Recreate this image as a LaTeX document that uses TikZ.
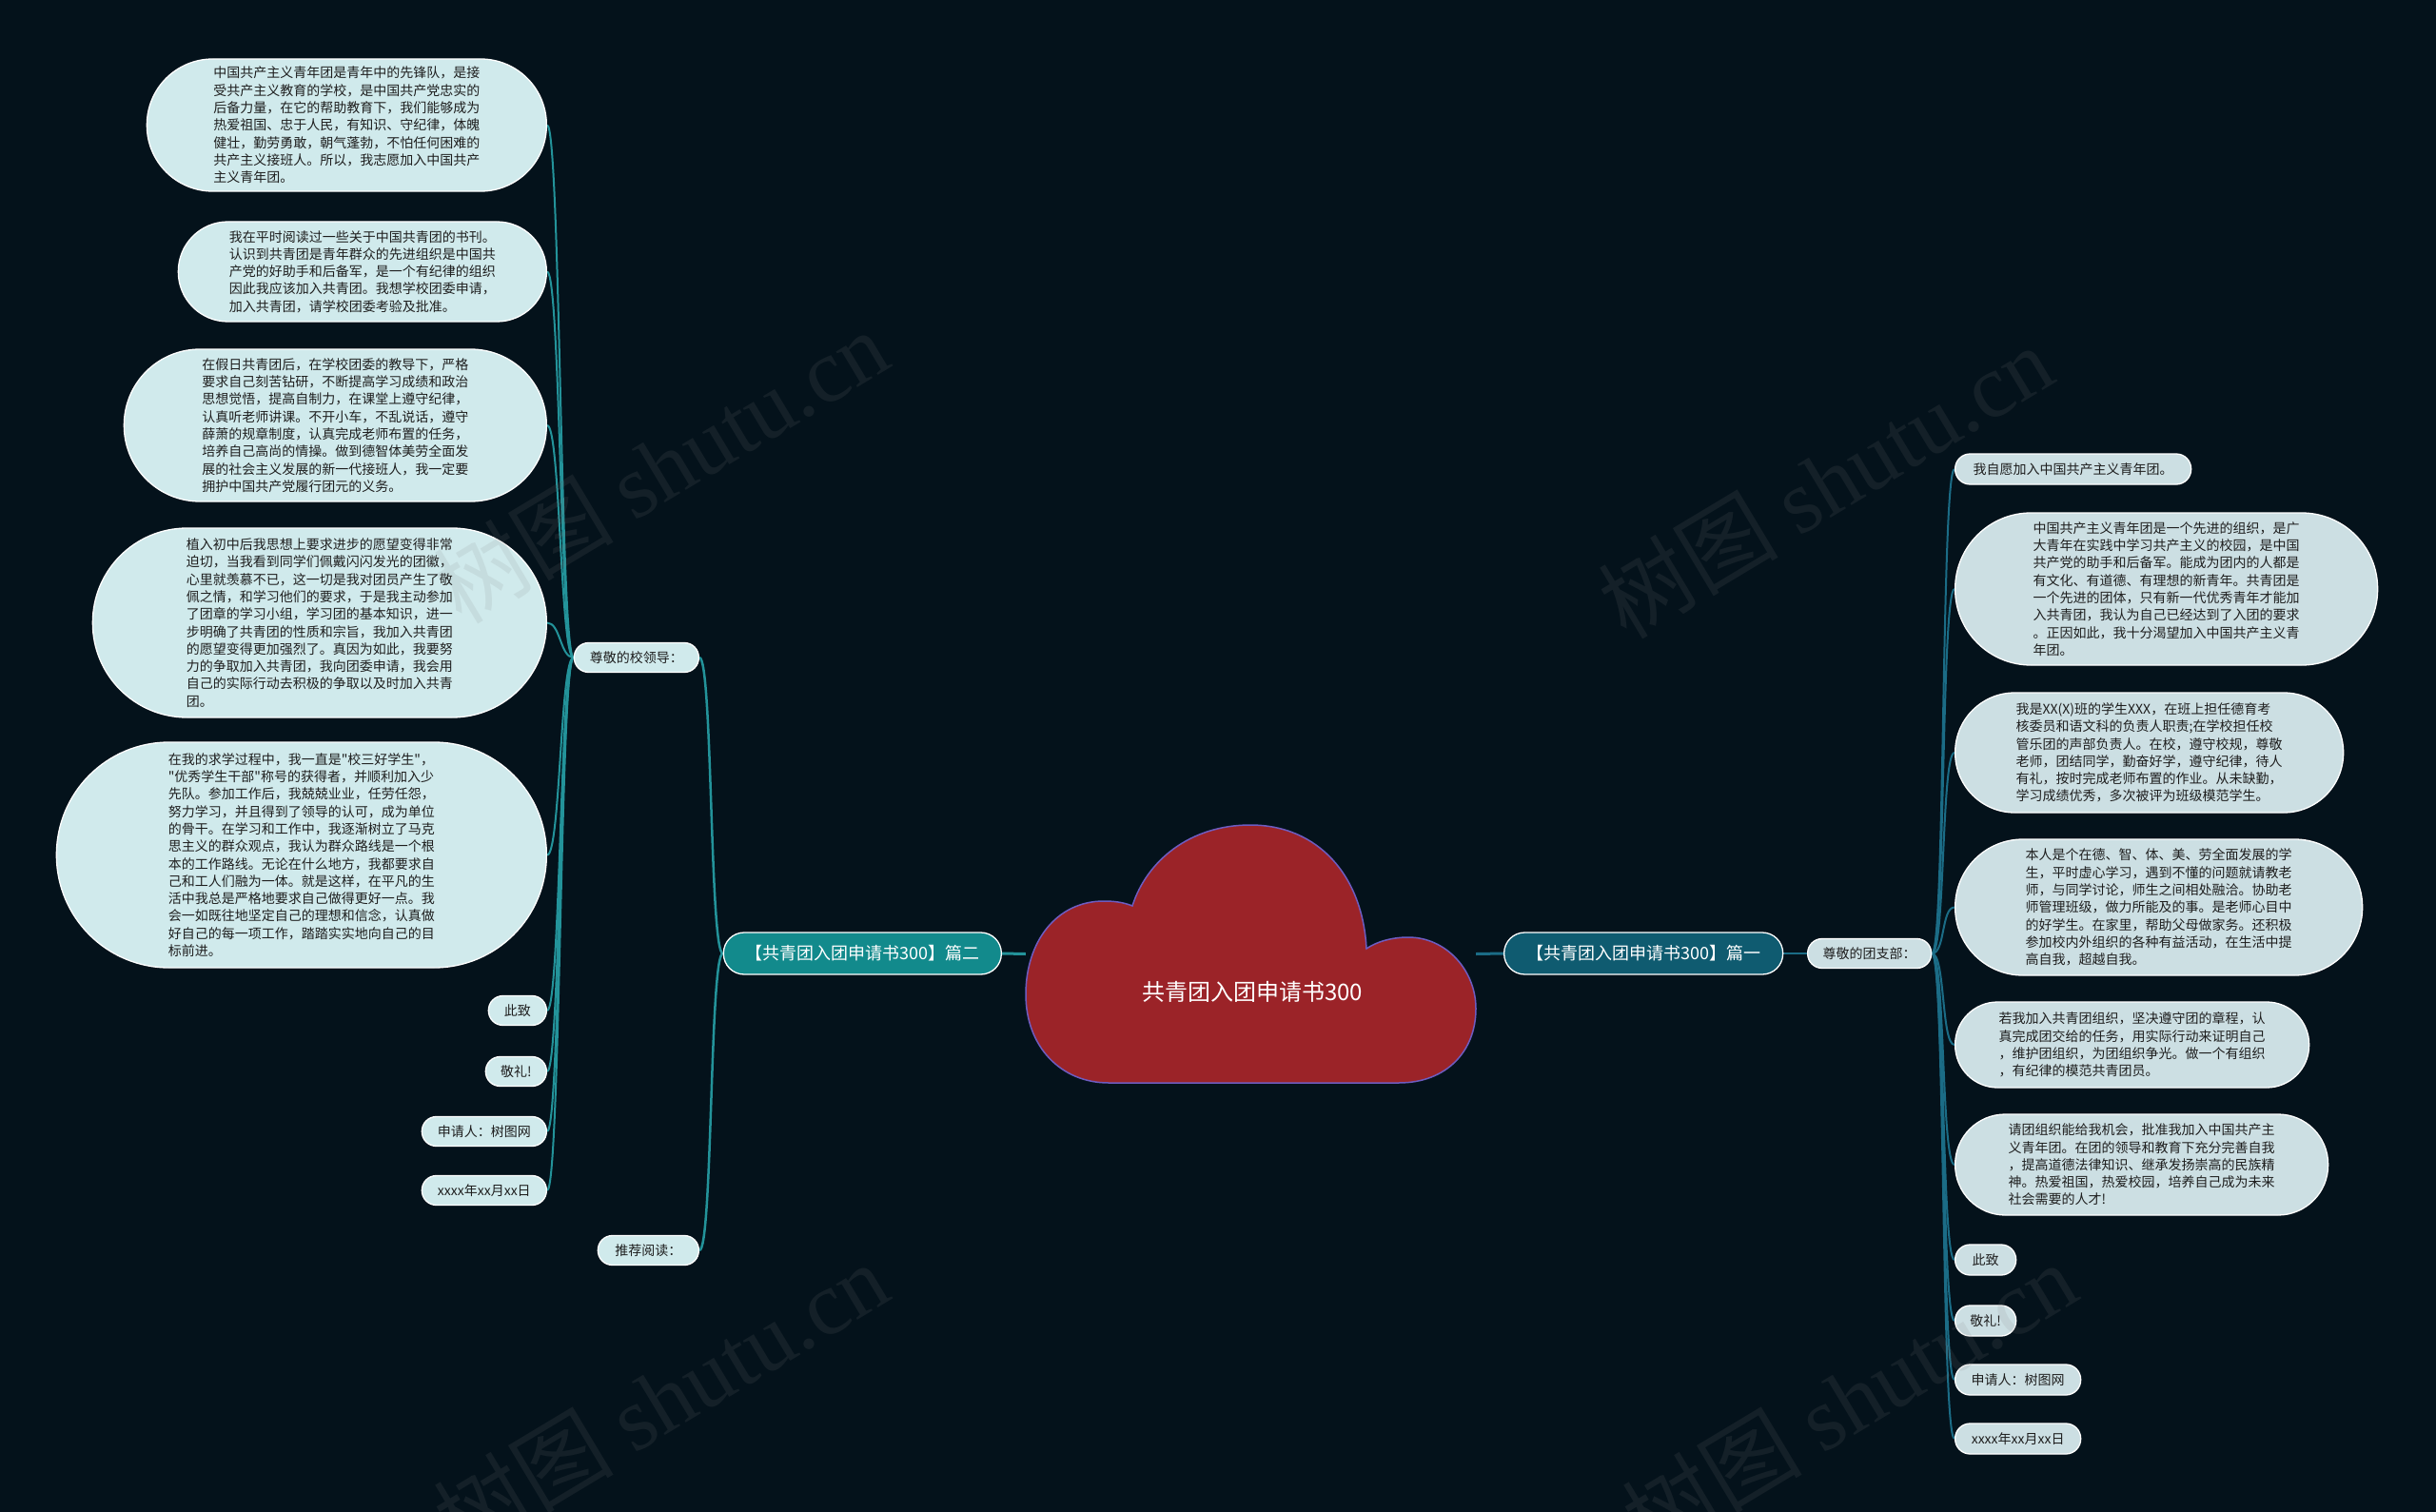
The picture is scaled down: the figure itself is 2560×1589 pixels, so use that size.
\documentclass[tikz,border=0pt]{standalone}
\usepackage{fontspec}
\setmainfont{Noto Sans CJK SC}
\setmonofont{Noto Sans CJK SC}
\newfontfamily\wmlatin{Liberation Serif}
\newcommand\myquote{{\ttfamily"}}
\pgfdeclarelayer{back}
\pgfsetlayers{back,main}
\definecolor{bgc}{HTML}{04121B}
\definecolor{leafL}{HTML}{D0EAEC}
\definecolor{leafR}{HTML}{CCDFE3}
\definecolor{lineL}{HTML}{23939A}
\definecolor{lineR}{HTML}{1B6C86}
\definecolor{brL}{HTML}{128A8C}
\definecolor{brR}{HTML}{0F5B70}
\definecolor{cloudfill}{HTML}{9B2328}
\definecolor{cloudedge}{HTML}{6E5CC0}
\definecolor{txt}{HTML}{1E1E1E}
\begin{document}
\begin{tikzpicture}[x=1pt,y=-1pt,
  boxsize/.style 2 args={rectangle, minimum width=#1, minimum height=#2, rounded corners=#2/2-0.3pt},
  leaf/.style={draw=white, line width=1.3pt, text=txt,
    font=\fontsize{14}{18.3}\selectfont, align=left, inner sep=0pt},
  leafl/.style={leaf, fill=leafL},
  leafr/.style={leaf, fill=leafR},
  branch/.style={draw=white, line width=1.3pt, text=white,
    font=\fontsize{18}{22}\selectfont, inner sep=0pt},
  connl/.style={draw=lineL, line width=2pt},
  connr/.style={draw=lineR, line width=2pt},
  wm/.style={text=gray, text opacity=0.13, font=\fontsize{95}{95}\selectfont, rotate=31}
]
\useasboundingbox (0,0) rectangle (2560,1589);
\begin{pgfonlayer}{back}
\fill[bgc] (0,0) rectangle (2560,1589);
\end{pgfonlayer}

% root cloud
\node[minimum width=473pt, minimum height=271pt, inner sep=0pt] (root) at (1314.5,1002.5) {};
\draw[fill=cloudfill, draw=cloudedge, line width=1.5pt]
  (1165,1138) -- (1470,1138)
  .. controls (1520,1138) and (1551,1105) .. (1551,1060)
  .. controls (1551,1020) and (1520,985) .. (1480,985)
  .. controls (1462,985) and (1446,990) .. (1436,997)
  .. controls (1432,920) and (1385,867) .. (1314,867)
  .. controls (1250,867) and (1205,905) .. (1190,952)
  .. controls (1180,948) and (1170,947) .. (1160,947)
  .. controls (1110,947) and (1078,990) .. (1078,1045)
  .. controls (1078,1100) and (1115,1138) .. (1165,1138) -- cycle;
\node[text=white, font=\fontsize{24}{28}\selectfont] (roottext) at (1316,1042) {共青团入团申请书300};

% branches
\node[branch, boxsize={293pt}{44pt}, fill=brR, anchor=west] (b1) at (1580,1002) {【共青团入团申请书300】篇一};
\node[branch, boxsize={292pt}{44pt}, fill=brL, anchor=east] (b2) at (1053,1002) {【共青团入团申请书300】篇二};

% sub nodes
\node[leafr, boxsize={130pt}{31pt}, anchor=west] (s1) at (1899,1002) {尊敬的团支部：};
\node[leafl, boxsize={131pt}{31pt}, anchor=east] (s2) at (735,691) {尊敬的校领导：};
\node[leafl, boxsize={106pt}{31pt}, anchor=east] (s3) at (735,1314) {推荐阅读：};

% right leaves
\node[leafr, boxsize={248pt}{32pt}, anchor=west] (r1) at (2054,493) {我自愿加入中国共产主义青年团。};
\node[leafr, boxsize={444pt}{160pt}, anchor=west] (r2) at (2054,619) {中国共产主义青年团是一个先进的组织，是广\\大青年在实践中学习共产主义的校园，是中国\\共产党的助手和后备军。能成为团内的人都是\\有文化、有道德、有理想的新青年。共青团是\\一个先进的团体，只有新一代优秀青年才能加\\入共青团，我认为自己已经达到了入团的要求\\。正因如此，我十分渴望加入中国共产主义青\\年团。};
\node[leafr, boxsize={408pt}{126pt}, anchor=west] (r3) at (2054,791) {我是XX(X)班的学生XXX，在班上担任德育考\\核委员和语文科的负责人职责;在学校担任校\\管乐团的声部负责人。在校，遵守校规，尊敬\\老师，团结同学，勤奋好学，遵守纪律，待人\\有礼，按时完成老师布置的作业。从未缺勤，\\学习成绩优秀，多次被评为班级模范学生。};
\node[leafr, boxsize={428pt}{143pt}, anchor=west] (r4) at (2054,953.5) {本人是个在德、智、体、美、劳全面发展的学\\生，平时虚心学习，遇到不懂的问题就请教老\\师，与同学讨论，师生之间相处融洽。协助老\\师管理班级，做力所能及的事。是老师心目中\\的好学生。在家里，帮助父母做家务。还积极\\参加校内外组织的各种有益活动，在生活中提\\高自我，超越自我。};
\node[leafr, boxsize={372pt}{90pt}, anchor=west] (r5) at (2054,1098) {若我加入共青团组织，坚决遵守团的章程，认\\真完成团交给的任务，用实际行动来证明自己\\，维护团组织，为团组织争光。做一个有组织\\，有纪律的模范共青团员。};
\node[leafr, boxsize={392pt}{106pt}, anchor=west] (r6) at (2054,1224) {请团组织能给我机会，批准我加入中国共产主\\义青年团。在团的领导和教育下充分完善自我\\，提高道德法律知识、继承发扬崇高的民族精\\神。热爱祖国，热爱校园，培养自己成为未来\\社会需要的人才!};
\node[leafr, boxsize={64pt}{32pt}, anchor=west] (r7) at (2054,1324) {此致};
\node[leafr, boxsize={64pt}{32pt}, anchor=west] (r8) at (2054,1388) {敬礼!};
\node[leafr, boxsize={132pt}{32pt}, anchor=west] (r9) at (2054,1450) {申请人：树图网};
\node[leafr, boxsize={132pt}{32pt}, anchor=west] (r10) at (2054,1512) {xxxx年xx月xx日};

% left leaves
\node[leafl, boxsize={420pt}{139pt}, anchor=east] (l1) at (575,131.5) {中国共产主义青年团是青年中的先锋队，是接\\受共产主义教育的学校，是中国共产党忠实的\\后备力量，在它的帮助教育下，我们能够成为\\热爱祖国、忠于人民，有知识、守纪律，体魄\\健壮，勤劳勇敢，朝气蓬勃，不怕任何困难的\\共产主义接班人。所以，我志愿加入中国共产\\主义青年团。};
\node[leafl, boxsize={387pt}{105pt}, anchor=east] (l2) at (575,285.5) {我在平时阅读过一些关于中国共青团的书刊。\\认识到共青团是青年群众的先进组织是中国共\\产党的好助手和后备军，是一个有纪律的组织\\因此我应该加入共青团。我想学校团委申请，\\加入共青团，请学校团委考验及批准。};
\node[leafl, boxsize={444pt}{160pt}, anchor=east] (l3) at (575,447) {在假日共青团后，在学校团委的教导下，严格\\要求自己刻苦钻研，不断提高学习成绩和政治\\思想觉悟，提高自制力，在课堂上遵守纪律，\\认真听老师讲课。不开小车，不乱说话，遵守\\薛萧的规章制度，认真完成老师布置的任务，\\培养自己高尚的情操。做到德智体美劳全面发\\展的社会主义发展的新一代接班人，我一定要\\拥护中国共产党履行团元的义务。};
\node[leafl, boxsize={477pt}{199pt}, anchor=east] (l4) at (575,654.5) {植入初中后我思想上要求进步的愿望变得非常\\迫切，当我看到同学们佩戴闪闪发光的团徽，\\心里就羡慕不已，这一切是我对团员产生了敬\\佩之情，和学习他们的要求，于是我主动参加\\了团章的学习小组，学习团的基本知识，进一\\步明确了共青团的性质和宗旨，我加入共青团\\的愿望变得更加强烈了。真因为如此，我要努\\力的争取加入共青团，我向团委申请，我会用\\自己的实际行动去积极的争取以及时加入共青\\团。};
\node[leafl, boxsize={515pt}{237pt}, anchor=east] (l5) at (575,898.5) {在我的求学过程中，我一直是\myquote 校三好学生\myquote ，\\\myquote 优秀学生干部\myquote 称号的获得者，并顺利加入少\\先队。参加工作后，我兢兢业业，任劳任怨，\\努力学习，并且得到了领导的认可，成为单位\\的骨干。在学习和工作中，我逐渐树立了马克\\思主义的群众观点，我认为群众路线是一个根\\本的工作路线。无论在什么地方，我都要求自\\己和工人们融为一体。就是这样，在平凡的生\\活中我总是严格地要求自己做得更好一点。我\\会一如既往地坚定自己的理想和信念，认真做\\好自己的每一项工作，踏踏实实地向自己的目\\标前进。};
\node[leafl, boxsize={61pt}{31pt}, anchor=east] (l6) at (575,1062) {此致};
\node[leafl, boxsize={64pt}{31pt}, anchor=east] (l7) at (575,1126) {敬礼!};
\node[leafl, boxsize={131pt}{31pt}, anchor=east] (l8) at (575,1189) {申请人：树图网};
\node[leafl, boxsize={131pt}{31pt}, anchor=east] (l9) at (575,1251) {xxxx年xx月xx日};

% connectors
\begin{pgfonlayer}{back}
\draw[draw=lineR, line width=3pt] (root.east) -- (b1.west);
\draw[draw=lineL, line width=3pt] (root.west) -- (b2.east);
\draw[connr, line width=2.5pt] (b1.east) -- (s1.west);
\draw[connl, line width=2.5pt] (b2.west) .. controls +(-14,0) and +(14,0) .. (s2.east);
\draw[connl, line width=2.5pt] (b2.west) .. controls +(-14,0) and +(14,0) .. (s3.east);
\foreach \n in {r1,r2,r3,r4,r5,r6,r7,r8,r9,r10}
  \draw[connr] (s1.east) .. controls +(14,0) and +(-14,0) .. (\n.west);
\foreach \n in {l1,l2,l3,l4,l5,l6,l7,l8,l9}
  \draw[connl] (s2.west) .. controls +(-14,0) and +(14,0) .. (\n.east);
\end{pgfonlayer}

% watermarks
\node[wm] (wm1) at (694,490) {树图 {\wmlatin shutu.cn}};
\node[wm] (wm2) at (1918,506) {树图 {\wmlatin shutu.cn}};
\node[wm] (wm3) at (694,1470) {树图 {\wmlatin shutu.cn}};
\node[wm] (wm4) at (1943,1470) {树图 {\wmlatin shutu.cn}};
\end{tikzpicture}
\end{document}
